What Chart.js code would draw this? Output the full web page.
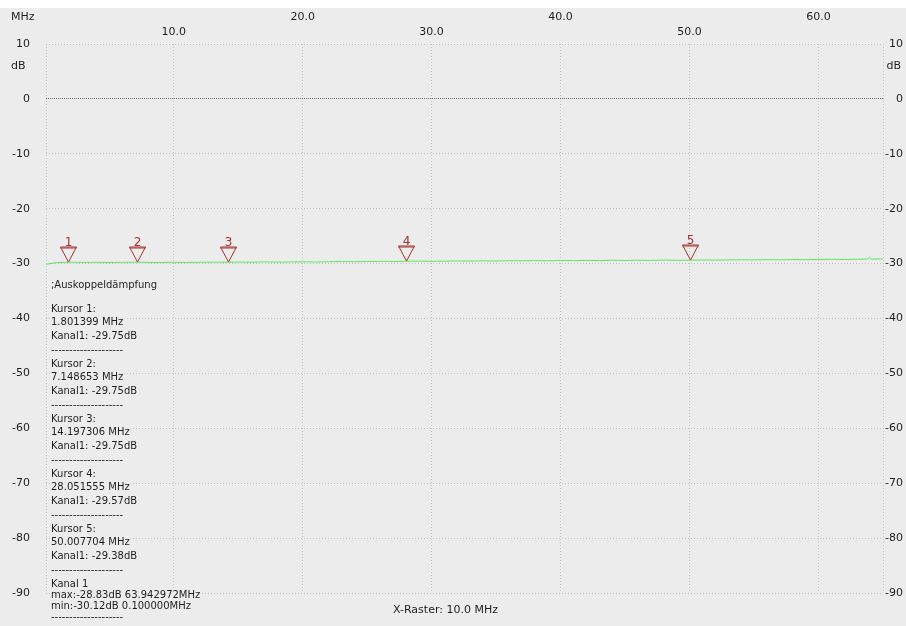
<!DOCTYPE html>
<html>
<head>
<meta charset="utf-8">
<title>Auskoppeldämpfung</title>
<script src="https://cdn.jsdelivr.net/npm/chart.js@4.4.1/dist/chart.umd.min.js"></script>
<style>
  html, body { margin: 0; padding: 0; background: #fff; }
  canvas { display: block; }
</style>
</head>
<body>
<canvas id="chart" width="906" height="626"></canvas>
<script>
const freqMHz = [0.1, 1, 2, 3, 4, 5, 6, 7, 8, 9, 10, 11, 12, 13, 14, 15, 16, 17, 18, 19, 20,
  21, 22, 23, 24, 25, 26, 27, 28, 29, 30, 31, 32, 33, 34, 35, 36, 37, 38, 39, 40,
  41, 42, 43, 44, 45, 46, 47, 48, 49, 50, 51, 52, 53, 54, 55, 56, 57, 58, 59, 60,
  61, 62, 63, 63.8, 63.94, 64.1, 65];
const levelDb = [-30.12, -29.80, -29.75, -29.78, -29.76, -29.80, -29.77, -29.75, -29.78, -29.80, -29.76,
  -29.79, -29.77, -29.74, -29.75, -29.72, -29.74, -29.70, -29.73, -29.71, -29.68,
  -29.72, -29.66, -29.64, -29.66, -29.62, -29.60, -29.63, -29.57, -29.55, -29.58,
  -29.56, -29.52, -29.55, -29.50, -29.53, -29.48, -29.50, -29.45, -29.49, -29.44,
  -29.46, -29.42, -29.45, -29.40, -29.43, -29.39, -29.41, -29.36, -29.40, -29.38,
  -29.35, -29.37, -29.33, -29.30, -29.34, -29.28, -29.31, -29.26, -29.29, -29.24,
  -29.22, -29.25, -29.20, -29.18, -28.83, -29.18, -29.15];

// Kursoren
const cursorFreq = [1.801399, 7.148653, 14.197306, 28.051555, 50.007704];
const cursorDb = [-29.75, -29.75, -29.75, -29.57, -29.38];

// Achsen
const xTicks = [0.1, 10, 20, 30, 40, 50, 60, 65];
const xUpper = [20, 40, 60];
const xLower = [10, 30, 50];
const yTicks = [10, 0, -10, -20, -30, -40, -50, -60, -70, -80, -90];

// Textblock
const headLine = ';Auskoppeldämpfung';
const infoLines = [
  'Kursor 1:', '1.801399 MHz', 'Kanal1: -29.75dB', '--------------------',
  'Kursor 2:', '7.148653 MHz', 'Kanal1: -29.75dB', '--------------------',
  'Kursor 3:', '14.197306 MHz', 'Kanal1: -29.75dB', '--------------------',
  'Kursor 4:', '28.051555 MHz', 'Kanal1: -29.57dB', '--------------------',
  'Kursor 5:', '50.007704 MHz', 'Kanal1: -29.38dB', '--------------------'
];
const summaryLines = ['Kanal 1', 'max:-28.83dB 63.942972MHz', 'min:-30.12dB 0.100000MHz', '--------------------'];
const footer = 'X-Raster: 10.0 MHz';

const BG = '#ececec';
const TXT = '#1e1e1e';
const RED = '#a83232';

const frame = {
  id: 'frame',
  beforeDraw(chart) {
    const ctx = chart.ctx;
    ctx.save();
    ctx.fillStyle = '#fff';
    ctx.fillRect(0, 0, chart.width, chart.height);
    ctx.fillStyle = BG;
    ctx.fillRect(0, 8, chart.width, chart.height - 8);
    ctx.restore();
  },
  afterDraw(chart) {
    const ctx = chart.ctx;
    const xs = chart.scales.x, ys = chart.scales.y;
    ctx.save();

    // Einheiten
    ctx.fillStyle = TXT;
    ctx.font = '11px "DejaVu Sans"';
    ctx.textBaseline = 'middle';
    ctx.textAlign = 'left';
    ctx.fillText('MHz', 11, 17);
    ctx.fillText('dB', 11, 66);
    ctx.textAlign = 'right';
    ctx.fillText('dB', 901, 66);

    // Kursor-Marken
    cursorFreq.forEach((f, i) => {
      const x = Math.round(xs.getPixelForValue(f)) + 0.5;
      const y = Math.round(ys.getPixelForValue(cursorDb[i]));
      ctx.strokeStyle = RED;
      ctx.lineWidth = 1;
      ctx.beginPath();
      ctx.moveTo(x - 8, y - 15);
      ctx.lineTo(x + 8, y - 15);
      ctx.lineTo(x, y);
      ctx.closePath();
      ctx.stroke();
      ctx.beginPath();
      ctx.moveTo(x - 8, y - 14);
      ctx.lineTo(x + 8, y - 14);
      ctx.stroke();
      ctx.fillStyle = RED;
      ctx.font = '12px "DejaVu Sans"';
      ctx.textAlign = 'center';
      ctx.textBaseline = 'alphabetic';
      ctx.fillText(String(i + 1), x, y - 16);
    });

    // Textblock mit deckendem Hintergrund
    ctx.font = '10px "DejaVu Sans"';
    ctx.textAlign = 'left';
    ctx.textBaseline = 'middle';
    const tx = 51;
    const line = (s, y) => {
      const w = ctx.measureText(s).width;
      ctx.fillStyle = BG;
      ctx.fillRect(tx - 1, Math.round(y) - 6, w + 2, 13);
      ctx.fillStyle = TXT;
      ctx.fillText(s, tx, y);
    };
    line(headLine, 285);
    let y = 309;
    infoLines.forEach(s => { line(s, y); y += 13.75; });
    summaryLines.forEach(s => { line(s, y); y += 11; });

    ctx.font = '11px "DejaVu Sans"';
    ctx.fillStyle = TXT;
    ctx.fillText(footer, 393, 610);
    ctx.restore();
  }
};

const gridColor = '#c4c4c4';

new Chart(document.getElementById('chart'), {
  type: 'line',
  data: {
    datasets: [{
      data: freqMHz.map((f, i) => ({ x: f, y: levelDb[i] })),
      borderColor: '#5ee85e',
      borderWidth: 1,
      pointRadius: 0,
      tension: 0,
      yAxisID: 'y'
    }]
  },
  options: {
    responsive: false,
    animation: false,
    devicePixelRatio: 1,
    layout: { padding: { top: 0, left: 0, right: 3, bottom: 33 } },
    plugins: { legend: { display: false }, tooltip: { enabled: false } },
    scales: {
      x: {
        type: 'linear',
        position: 'top',
        min: 0.1,
        max: 65,
        afterBuildTicks(scale) { scale.ticks = xTicks.map(v => ({ value: v })); },
        afterFit(scale) { scale.height = 44; },
        grid: { color: gridColor, lineWidth: 1, drawTicks: false },
        border: { display: false, dash: [1, 2] },
        ticks: {
          autoSkip: false,
          maxRotation: 0,
          padding: 4,
          color: TXT,
          font: { family: 'DejaVu Sans', size: 11, lineHeight: '15.5px' },
          callback(v) {
            if (xUpper.includes(v)) return [v.toFixed(1), ''];
            if (xLower.includes(v)) return ['', v.toFixed(1)];
            return ['', ''];
          }
        }
      },
      y: {
        type: 'linear',
        position: 'left',
        min: -90,
        max: 10,
        afterBuildTicks(scale) { scale.ticks = yTicks.map(v => ({ value: v })); },
        afterFit(scale) { scale.width = 46; },
        grid: {
          color: ctx => (ctx.tick && ctx.tick.value === 0) ? '#6a6a6a' : gridColor,
          lineWidth: 1,
          drawTicks: false
        },
        border: { display: false, dash: ctx => (ctx.tick && ctx.tick.value === 0) ? [1, 1] : [1, 2] },
        ticks: {
          padding: 16,
          color: TXT,
          font: { family: 'DejaVu Sans', size: 11 },
          callback: v => String(v)
        }
      },
      y2: {
        type: 'linear',
        position: 'right',
        min: -90,
        max: 10,
        afterBuildTicks(scale) { scale.ticks = yTicks.map(v => ({ value: v })); },
        afterFit(scale) { scale.width = 20; },
        grid: { drawOnChartArea: false, drawTicks: false },
        border: { display: false },
        ticks: {
          crossAlign: 'far',
          padding: 0,
          color: TXT,
          font: { family: 'DejaVu Sans', size: 11 },
          callback: v => String(v)
        }
      }
    }
  },
  plugins: [frame]
});
</script>
</body>
</html>
